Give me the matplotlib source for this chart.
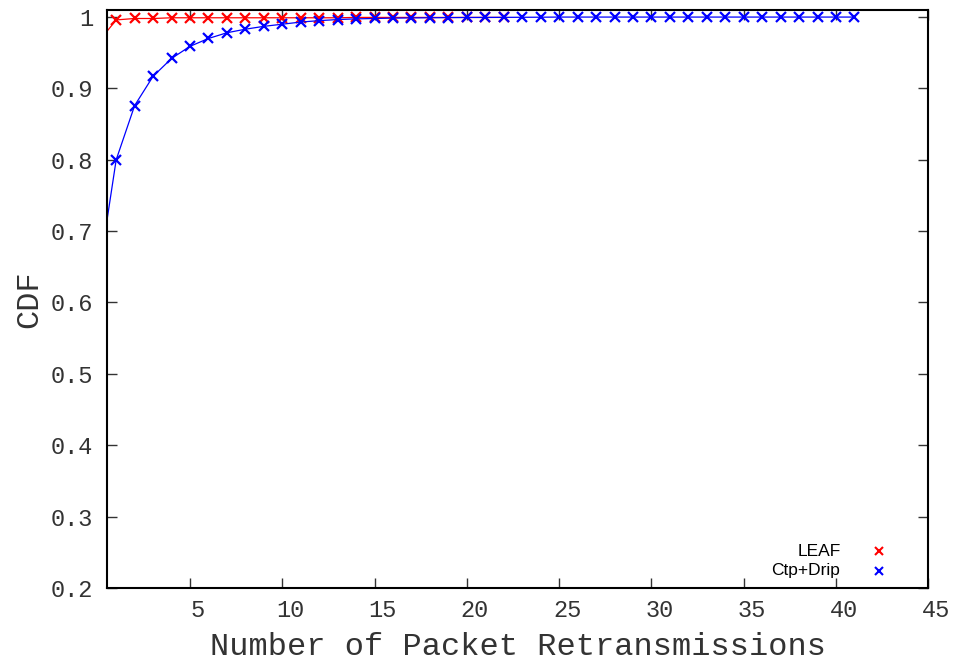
import matplotlib
matplotlib.use("Agg")
import matplotlib.pyplot as plt
import matplotlib.transforms as mtransforms

# datos
x_leaf = list(range(0, 23))
cdf_leaf = [0.964, 0.996, 0.998, 0.998, 0.999, 0.999, 0.999, 0.999, 0.999, 0.999,
            0.999, 0.999, 0.999, 0.999, 0.9995, 0.9995, 0.9995, 0.9995, 0.9995, 0.9995,
            0.9995, 0.9995, 0.9995]

x_ctp = list(range(0, 42))
cdf_ctp = [0.63, 0.800, 0.876, 0.917, 0.942, 0.959, 0.970, 0.978, 0.983, 0.987,
           0.990, 0.993, 0.995, 0.9965, 0.9975, 0.998, 0.9985, 0.9988, 0.999, 0.9992,
           0.9994, 0.9995, 0.9996, 0.9997, 0.9998, 1.0, 1.0, 1.0, 1.0, 1.0,
           1.0, 1.0, 1.0, 1.0, 1.0, 1.0, 1.0, 1.0, 1.0, 1.0, 1.0, 1.0]

xticks = [5, 10, 15, 20, 25, 30, 35, 40, 45]
yticks = [0.2, 0.3, 0.4, 0.5, 0.6, 0.7, 0.8, 0.9, 1.0]
ytick_labels = ["0.2", "0.3", "0.4", "0.5", "0.6", "0.7", "0.8", "0.9", "1"]

mono = "Liberation Mono"
txt = "#333333"

fig = plt.figure(figsize=(9.55, 6.62), dpi=100)
ax = fig.add_axes([0.112, 0.112, 0.860, 0.873])

ax.plot(x_leaf, cdf_leaf, color="red", lw=0.9, marker="x", ms=7, mew=1.6,
        markevery=list(range(1, len(x_leaf))))
ax.plot(x_ctp, cdf_ctp, color="blue", lw=0.9, marker="x", ms=7, mew=1.6,
        markevery=list(range(1, len(x_ctp))))

ax.set_xlim(0.5, 45)
ax.set_ylim(0.2, 1.01)
ax.set_xticks(xticks)
ax.set_xticklabels([str(t) for t in xticks], fontfamily=mono, fontsize=17, color=txt)
ax.set_yticks(yticks)
ax.set_yticklabels(ytick_labels, fontfamily=mono, fontsize=17, color=txt)
ax.tick_params(direction="in", length=7, width=1, top=True, right=True,
               color="#333333")
ax.tick_params(axis="x", pad=8)
ax.tick_params(axis="y", pad=10)

# gnuplot corre un poco las etiquetas del eje x
off = mtransforms.ScaledTranslation(8 / 100, 0, fig.dpi_scale_trans)
for lbl in ax.get_xticklabels():
    lbl.set_transform(lbl.get_transform() + off)

for s in ax.spines.values():
    s.set_linewidth(1.5)
    s.set_color("black")

ax.set_xlabel("Number of Packet Retransmissions", fontfamily=mono, fontsize=23,
              color=txt, labelpad=7)
ax.set_ylabel("CDF", fontfamily=mono, fontsize=23, color=txt, labelpad=5)

# leyenda a mano (texto alineado a la derecha, marcador a la derecha)
names = ["LEAF", "Ctp+Drip"]
colors = ["red", "blue"]
ly = [0.063, 0.030]
for n, c, yy in zip(names, colors, ly):
    ax.text(0.893, yy, n, transform=ax.transAxes, ha="right", va="center",
            fontfamily="Liberation Sans", fontsize=12.5, color="black")
    ax.plot([0.940], [yy], transform=ax.transAxes, marker="x", color=c,
            ms=6, mew=1.5, ls="none", clip_on=False)

fig.savefig("out.png", dpi=100)
